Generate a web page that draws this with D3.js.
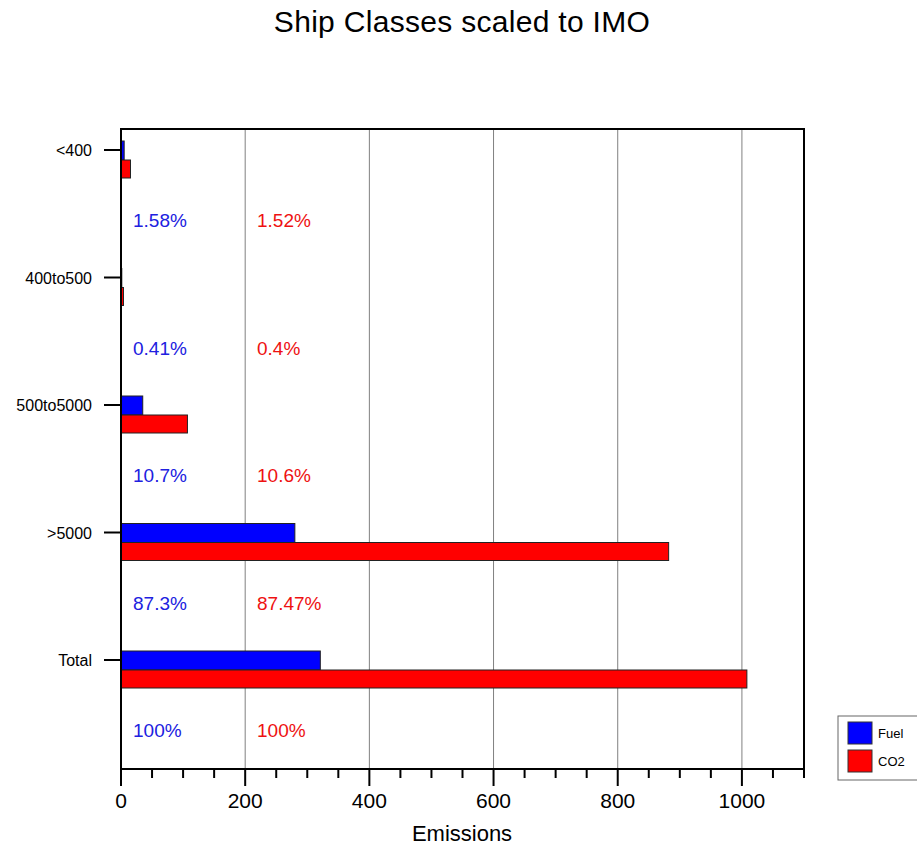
<!DOCTYPE html>
<html>
<head>
<meta charset="utf-8">
<script src="https://cdn.jsdelivr.net/npm/d3@7"></script>
<style>
  body { margin: 0; background: #fff; }
  svg text { font-family: "Liberation Sans", Arial, Helvetica, sans-serif; }
</style>
</head>
<body>
<div class="container"></div>
<script>
var categories = ["<400", "400to500", "500to5000", ">5000", "Total"];
var fuel = [5.1, 1.3, 35, 280, 321];
var co2 = [15.3, 4, 107, 882, 1008];
var fuelPct = ["1.58%", "0.41%", "10.7%", "87.3%", "100%"];
var co2Pct = ["1.52%", "0.4%", "10.6%", "87.47%", "100%"];
var xTicks = [0, 200, 400, 600, 800, 1000];
var seriesNames = ["Fuel", "CO2"];
var seriesColors = ["#0000ff", "#ff0000"];

var margin = {top: 129, right: 113, bottom: 79, left: 121},
    width = 917 - margin.left - margin.right,
    height = 848 - margin.top - margin.bottom;

var svg = d3.select(".container")
  .append("svg")
    .attr("width", 917)
    .attr("height", 848);

svg.append("text")
  .attr("x", 462)
  .attr("y", 32)
  .attr("text-anchor", "middle")
  .style("font-size", "30px")
  .style("letter-spacing", "0.3px")
  .text("Ship Classes scaled to IMO");

var g = svg.append("g")
  .attr("transform", "translate(" + margin.left + "," + margin.top + ")");

var x = d3.scaleLinear()
  .domain([0, 1100])
  .range([0, width]);

var y = d3.scalePoint()
  .domain(categories)
  .range([21, 531]);

// grid lines
g.selectAll(".grid")
  .data(xTicks.slice(1))
  .enter().append("line")
  .attr("x1", d => x(d))
  .attr("x2", d => x(d))
  .attr("y1", 0)
  .attr("y2", height)
  .attr("stroke", "#808080")
  .attr("stroke-width", 1);

// bars
g.selectAll(".fuel")
  .data(categories)
  .enter().append("rect")
  .attr("x", x(0))
  .attr("y", d => y(d) - 9)
  .attr("width", (d, i) => x(fuel[i]) - x(0))
  .attr("height", 19)
  .attr("fill", seriesColors[0])
  .attr("stroke", "#222")
  .attr("stroke-width", 1);

g.selectAll(".co2")
  .data(categories)
  .enter().append("rect")
  .attr("x", x(0))
  .attr("y", d => y(d) + 10)
  .attr("width", (d, i) => x(co2[i]) - x(0))
  .attr("height", 18)
  .attr("fill", seriesColors[1])
  .attr("stroke", "#222")
  .attr("stroke-width", 1);

// percent labels
g.selectAll(".fpct")
  .data(categories)
  .enter().append("text")
  .attr("x", 12)
  .attr("y", d => y(d) + 77)
  .attr("fill", "#2020e0")
  .style("font-size", "19px")
  .text((d, i) => fuelPct[i]);

g.selectAll(".cpct")
  .data(categories)
  .enter().append("text")
  .attr("x", 136)
  .attr("y", d => y(d) + 77)
  .attr("fill", "#ee1111")
  .style("font-size", "19px")
  .text((d, i) => co2Pct[i]);

// frame
g.append("rect")
  .attr("x", 0)
  .attr("y", 0)
  .attr("width", width)
  .attr("height", height)
  .attr("fill", "none")
  .attr("stroke", "#000")
  .attr("stroke-width", 2);

// x axis
var xAxis = g.append("g")
  .attr("transform", "translate(0," + height + ")");

xAxis.selectAll(".minor")
  .data(d3.range(0, 1101, 50))
  .enter().append("line")
  .attr("x1", d => x(d))
  .attr("x2", d => x(d))
  .attr("y1", 0)
  .attr("y2", d => d % 200 === 0 ? 17 : 9)
  .attr("stroke", "#000")
  .attr("stroke-width", 2);

xAxis.selectAll(".lbl")
  .data(xTicks)
  .enter().append("text")
  .attr("x", d => x(d))
  .attr("y", 39)
  .attr("text-anchor", "middle")
  .style("font-size", "21px")
  .text(d => d);

svg.append("text")
  .attr("x", 462)
  .attr("y", 841)
  .attr("text-anchor", "middle")
  .style("font-size", "22px")
  .text("Emissions");

// y axis
var yAxis = g.append("g");
yAxis.selectAll(".yt")
  .data(categories)
  .enter().append("line")
  .attr("x1", -17)
  .attr("x2", 0)
  .attr("y1", d => y(d))
  .attr("y2", d => y(d))
  .attr("stroke", "#000")
  .attr("stroke-width", 2);

yAxis.selectAll(".yl")
  .data(categories)
  .enter().append("text")
  .attr("x", -29)
  .attr("y", d => y(d) + 6)
  .attr("text-anchor", "end")
  .style("font-size", "16px")
  .text(d => d);

// legend
var legend = svg.append("g");
legend.append("rect")
  .attr("x", 838)
  .attr("y", 716)
  .attr("width", 82)
  .attr("height", 64)
  .attr("fill", "#fff")
  .attr("stroke", "#666")
  .attr("stroke-width", 1);

seriesNames.forEach(function(name, i) {
  legend.append("rect")
    .attr("x", 848)
    .attr("y", 722 + i * 28)
    .attr("width", 24)
    .attr("height", 22)
    .attr("fill", seriesColors[i])
    .attr("stroke", "#333")
    .attr("stroke-width", 1);
  legend.append("text")
    .attr("x", 878)
    .attr("y", 738 + i * 28)
    .style("font-size", "13px")
    .text(name);
});
</script>
</body>
</html>
